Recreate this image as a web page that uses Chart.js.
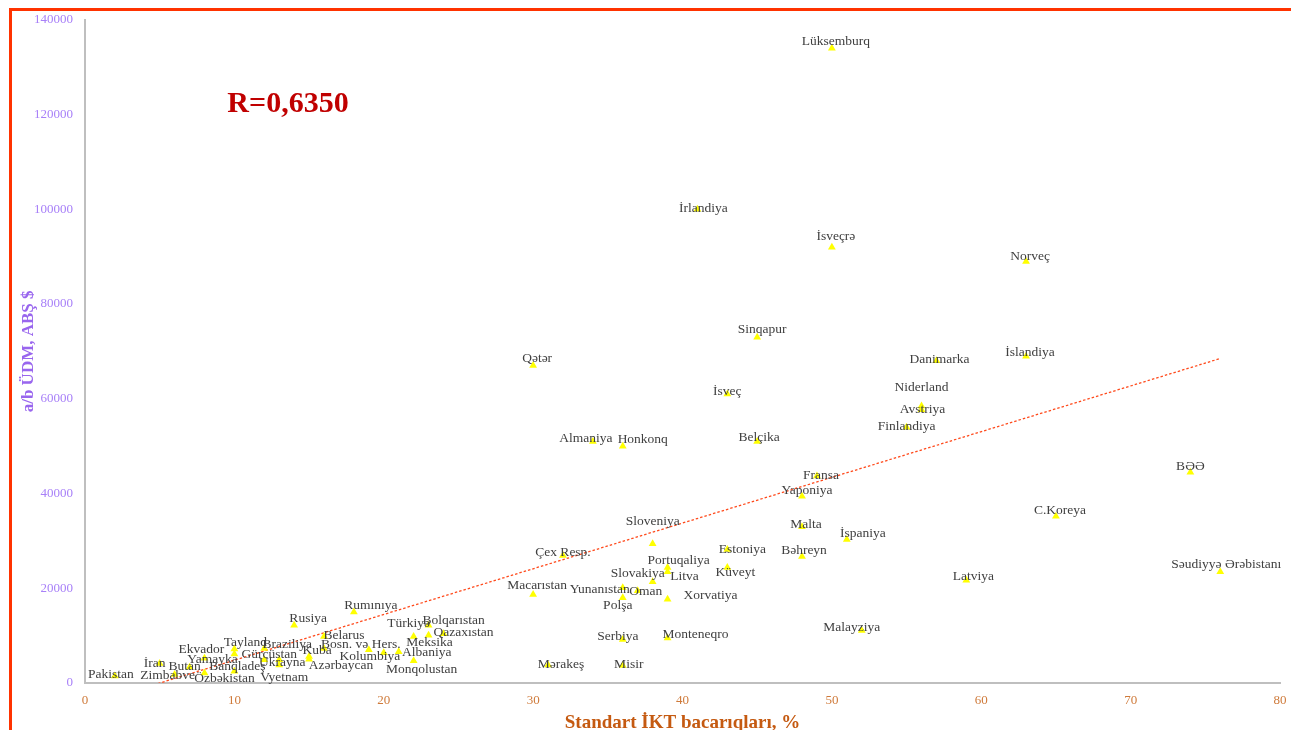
<!DOCTYPE html>
<html>
<head>
<meta charset="utf-8">
<script src="https://cdn.jsdelivr.net/npm/chart.js@4.4.1/dist/chart.umd.min.js"></script>
<style>
  html, body { margin: 0; padding: 0; background: #fff; overflow: hidden; }
  #frame { position: absolute; left: 9px; top: 8px; width: 1400px; height: 800px;
           border-left: 3px solid #ff3300; border-top: 3px solid #ff3300; }
  #scatter { position: absolute; left: 0; top: 0; }
</style>
</head>
<body>
<div id="frame"></div>
<canvas id="scatter" width="1291" height="730"></canvas>
<script>
const countries = ['Lüksemburq', 'İrlandiya', 'İsveçrə', 'Norveç', 'Sinqapur', 'İslandiya', 'Danimarka', 'Qətər',
  'İsveç', 'Niderland', 'Avstriya', 'Finlandiya', 'Almaniya', 'Belçika', 'Honkonq', 'BƏƏ', 'Fransa', 'Yaponiya',
  'C.Koreya', 'Malta', 'İspaniya', 'Sloveniya', 'Estoniya', 'Çex Resp.', 'Bəhreyn', 'Portuqaliya', 'Küveyt',
  'Səudiyyə Ərəbistanı', 'Litva', 'Latviya', 'Slovakiya', 'Yunanıstan', 'Oman', 'Macarıstan', 'Polşa', 'Xorvatiya',
  'Rumınıya', 'Rusiya', 'Bolqarıstan', 'Malayziya', 'Qazaxıstan', 'Meksika', 'Türkiyə', 'Belarus', 'Monteneqro',
  'Serbiya', '', 'Braziliya', 'Tayland', 'Bosn. və Hers.', 'Albaniya', 'Kolumbiya', 'Ekvador', 'Kuba', 'Yamayka',
  'Azərbaycan', 'Gürcüstan', 'Ukrayna', 'Monqolustan', 'İran', 'Mərakeş', 'Vyetnam', 'Misir', 'Butan', 'Banqladeş',
  'Özbəkistan', 'Zimbabve', 'Pakistan'];
const ictSkills = [50, 41, 50, 63, 45, 63, 57, 30,
  43, 56, 56, 55, 34, 45, 36, 74, 49, 48,
  65, 48, 51, 38, 43, 32, 48, 39, 43,
  76, 39, 59, 38, 36, 37, 30, 36, 39,
  18, 14, 23, 52, 24, 23, 22, 16, 39,
  36, 16, 12, 10, 19, 21, 20, 10, 15, 8,
  15, 12, 13, 22, 5, 31, 13, 36, 7, 10,
  8, 6, 2];
const gdpPerCapita = [134000, 100000, 92000, 89000, 73000, 69000, 68000, 67000,
  61000, 58500, 57700, 54000, 51000, 51000, 50000, 44500, 43700, 39400,
  35200, 33000, 30300, 29400, 28200, 26900, 26700, 24400, 24400,
  23500, 23500, 21700, 21400, 20100, 19500, 18700, 18000, 17700,
  15000, 12200, 12200, 11100, 10400, 10100, 9800, 9800, 9500,
  9200, 7300, 7300, 7200, 7000, 6600, 6400, 6100, 5600, 5200,
  5000, 4900, 4900, 4700, 4100, 3800, 3800, 3700, 3300, 2500,
  2100, 1800, 1500];
// linear trend
const trendX = [2, 76];
const trendY = [-2900, 68500];
const rText = 'R=0,6350';

// label placement (px offset of label centre from its marker)
const labelOffsets = {
  'Lüksemburq': [4, -7], 'İrlandiya': [6, -1], 'İsveçrə': [4, -11], 'Norveç': [4, -5], 'Sinqapur': [5, -8],
  'İslandiya': [4, -4], 'Danimarka': [3, -1], 'Qətər': [4, -7], 'İsveç': [0, -3], 'Niderland': [0, -18],
  'Avstriya': [1, 0], 'Finlandiya': [0, -1], 'Almaniya': [-7, -3], 'Belçika': [2, -4], 'Honkonq': [20, -7],
  'BƏƏ': [0, -6], 'Fransa': [4, -1], 'Yaponiya': [5, -6], 'C.Koreya': [4, -6], 'Malta': [4, -2],
  'İspaniya': [16, -6], 'Sloveniya': [0, -22], 'Estoniya': [15, 0], 'Çex Resp.': [0, -3], 'Bəhreyn': [2, -6],
  'Portuqaliya': [11, -7], 'Küveyt': [8, 5], 'Səudiyyə Ərəbistanı': [6, -7], 'Litva': [17, 5], 'Latviya': [7, -4],
  'Slovakiya': [-15, -8], 'Yunanıstan': [-23, 2], 'Oman': [8, 1], 'Macarıstan': [4, -9], 'Polşa': [-5, 8],
  'Xorvatiya': [43, -4], 'Rumınıya': [17, -6], 'Rusiya': [14, -7], 'Bolqarıstan': [25, -5], 'Malayziya': [-10, -3],
  'Qazaxıstan': [20, -1], 'Meksika': [1, 7], 'Türkiyə': [-5, -13], 'Belarus': [20, -1], 'Monteneqro': [28, -4],
  'Serbiya': [-5, -3], 'Braziliya': [23, -4], 'Tayland': [11, -6], 'Bosn. və Hers.': [-8, -5], 'Albaniya': [28, 1],
  'Kolumbiya': [-14, 4], 'Ekvador': [-33, -5], 'Kuba': [8, -6], 'Yamayka': [8, 1], 'Azərbaycan': [32, 6],
  'Gürcüstan': [5, -5], 'Ukrayna': [3, 3], 'Monqolustan': [8, 9], 'İran': [-5, 0], 'Mərakeş': [13, -1],
  'Vyetnam': [5, 12], 'Misir': [6, -1], 'Butan': [-5, -1], 'Banqladeş': [3, -5], 'Özbəkistan': [20, 5],
  'Zimbabve': [-7, 1], 'Pakistan': [-4, -1]
};

const points = countries.map((c, i) => ({ x: ictSkills[i], y: gdpPerCapita[i] }));
const trend = trendX.map((x, i) => ({ x: x, y: trendY[i] }));

const pointLabels = {
  id: 'pointLabels',
  afterDatasetsDraw(chart) {
    const ctx = chart.ctx;
    const meta = chart.getDatasetMeta(0);
    ctx.save();
    ctx.font = '13.5px "Liberation Serif", "Times New Roman", serif';
    ctx.fillStyle = '#404040';
    ctx.textAlign = 'center';
    ctx.textBaseline = 'middle';
    meta.data.forEach((el, i) => {
      const name = countries[i];
      if (!name) return;
      const off = labelOffsets[name] || [0, -8];
      ctx.fillText(name, el.x + off[0], el.y + off[1]);
    });
    // correlation note
    ctx.font = 'bold 30px "Liberation Serif", "Times New Roman", serif';
    ctx.fillStyle = '#c00000';
    ctx.fillText(rText, 288, 104);
    ctx.restore();
  }
};

new Chart(document.getElementById('scatter'), {
  type: 'scatter',
  data: {
    datasets: [
      {
        label: 'Ölkələr',
        data: points,
        pointStyle: 'triangle',
        pointRadius: 4.5,
        pointHoverRadius: 4.5,
        backgroundColor: '#ffff00',
        borderColor: '#ffff00',
        borderWidth: 0
      },
      {
        type: 'line',
        label: 'Trend',
        data: trend,
        borderColor: '#ff4a1c',
        borderWidth: 1.3,
        borderDash: [2.5, 2],
        pointRadius: 0,
        fill: false
      }
    ]
  },
  options: {
    responsive: false,
    animation: false,
    layout: { padding: { left: 0, top: 17, right: 0, bottom: 0 } },
    plugins: {
      legend: { display: false },
      tooltip: { enabled: false }
    },
    scales: {
      x: {
        type: 'linear',
        min: 0,
        max: 80,
        grid: { display: false, drawTicks: false },
        border: { color: '#bfbfbf', width: 2 },
        ticks: {
          stepSize: 10,
          padding: 10,
          color: '#cf7a3a',
          font: { family: '"Liberation Serif", "Times New Roman", serif', size: 13 }
        },
        title: {
          display: true,
          text: 'Standart İKT bacarıqları, %',
          color: '#c55a11',
          padding: { top: 0, bottom: 0 },
          font: { family: '"Liberation Serif", "Times New Roman", serif', size: 19, weight: 'bold', lineHeight: 0.75 }
        },
        afterFit(scale) { scale.height = 47; scale.paddingRight = 11; }
      },
      y: {
        min: 0,
        max: 140000,
        grid: { display: false, drawTicks: false },
        border: { color: '#bfbfbf', width: 2 },
        ticks: {
          stepSize: 20000,
          padding: 12,
          color: '#a880f8',
          font: { family: '"Liberation Serif", "Times New Roman", serif', size: 13 },
          callback: v => String(v)
        },
        title: {
          display: true,
          text: 'a/b ÜDM, ABŞ $',
          color: '#9966ee',
          padding: { top: 18, bottom: 0 },
          font: { family: '"Liberation Serif", "Times New Roman", serif', size: 17, weight: 'bold' }
        },
        afterFit(scale) { scale.width = 85; }
      }
    }
  },
  plugins: [pointLabels]
});
</script>
</body>
</html>
